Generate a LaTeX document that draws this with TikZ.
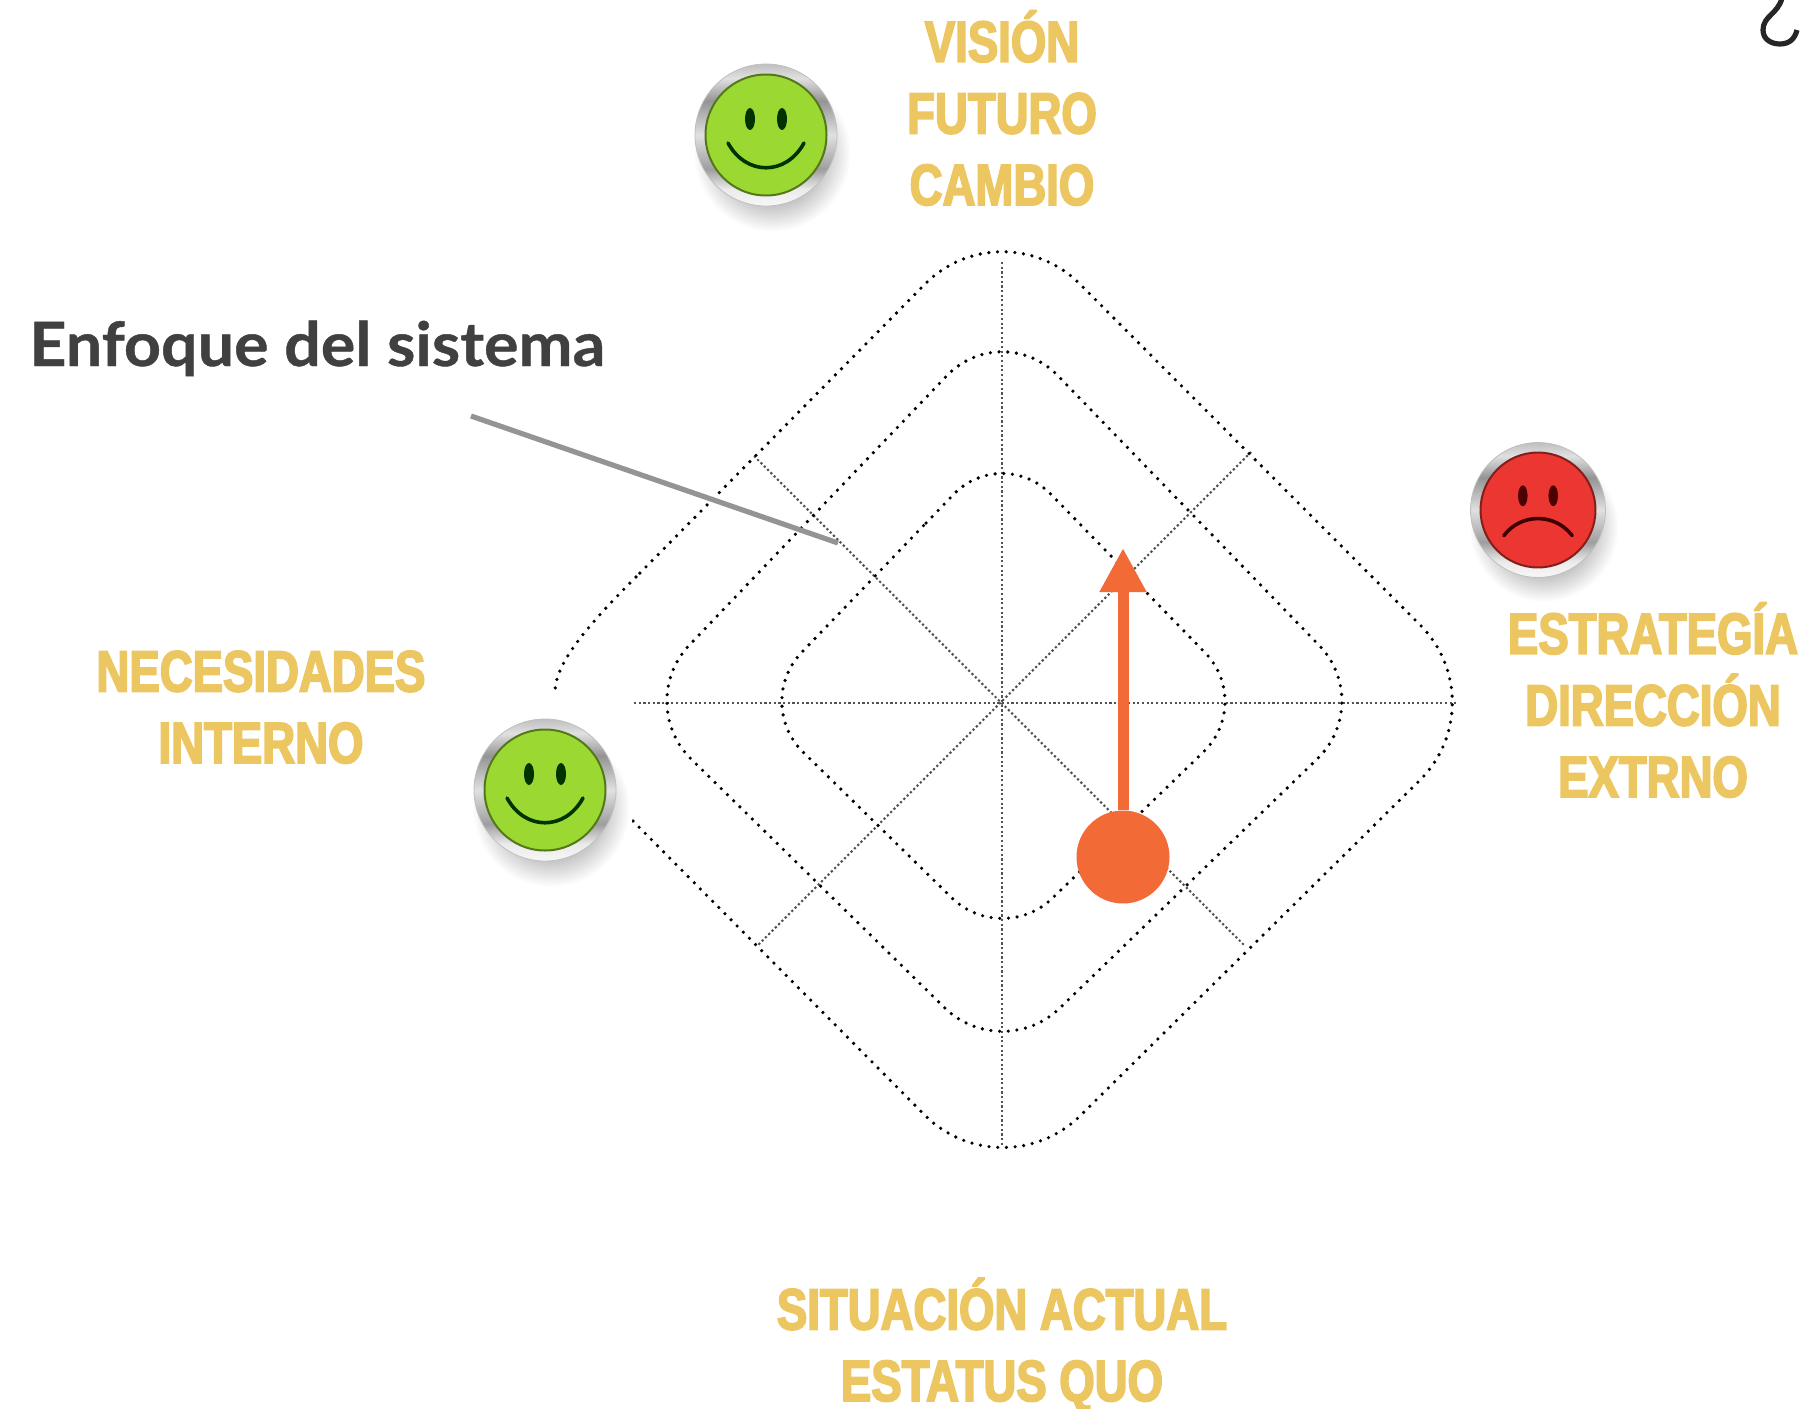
\documentclass[tikz,border=0pt]{standalone}
\usepackage{fontspec}
\usepackage{xcolor}
\usetikzlibrary{arrows.meta}
\newfontfamily\labelfont[FakeStretch=0.785,FakeBold=3]{Liberation Sans Bold}
\newfontfamily\titlefont[FakeStretch=1.058,FakeBold=0.7]{Lato Bold}
\definecolor{label-gold}{HTML}{ECC660}
\definecolor{marker-orange}{HTML}{F26A36}
\definecolor{face-green}{HTML}{9BD932}
\definecolor{face-red}{HTML}{EC3631}
\pgfdeclareradialshading{button-shadow}{\pgfpoint{0bp}{0bp}}{color(0bp)=(black!50); color(14bp)=(black!28); color(24bp)=(white); color(50bp)=(white)}
\pgfdeclareverticalshading{button-ring}{100bp}{color(0bp)=(black!3); color(25bp)=(black!3); color(31bp)=(black!8); color(38bp)=(black!38); color(50bp)=(black!12); color(62bp)=(black!42); color(70bp)=(black!12); color(75bp)=(black!25); color(100bp)=(black!25)}
\newcommand{\buttonbase}[1]{
    \shade[shading=button-shadow] (6,18) circle (82);
    \shadedraw[draw=black!25, line width=0.4pt, shading=button-ring] (0,0) circle (71);
    \fill[#1, draw=#1!55!black, line width=1pt] (0,0) circle (60.5);
}
\tikzset{
    x=0.5pt, y=-0.5pt,
    axis-line/.style = {draw=black!68, line width=1.05pt, dash pattern=on 1.1pt off 1.23pt},
    ring-line/.style = {draw=black, line width=1.8pt, line cap=round, dash pattern=on 0pt off 4.35pt},
    pointer-line/.style = {draw=black!42, line width=2.6pt},
    label-text/.style = {text=label-gold, font=\labelfont\fontsize{29}{35.8}\selectfont, align=center, anchor=base, inner sep=0pt},
    title-text/.style = {text=black!75, font=\titlefont\fontsize{30.5}{35}\selectfont, anchor=base west, inner sep=0pt},
    core-dot/.style = {circle, fill=marker-orange, inner sep=0pt, minimum size=46.5pt},
    trend-arrow/.style = {draw=marker-orange, line width=5.5pt, -{Triangle[length=22pt,width=22pt]}},
    happy-face/.pic = {
        \buttonbase{face-green}
        \fill[green!20!black] (-16,-16) ellipse (5 and 11) (16,-16) ellipse (5 and 11);
        \draw[green!20!black, line width=1.8pt, line cap=round] (-38,8) .. controls (-20,41) and (20,41) .. (38,8);
    },
    sad-face/.pic = {
        \buttonbase{face-red}
        \fill[red!30!black] (-16,-15) ellipse (5 and 11) (16,-15) ellipse (5 and 11);
        \draw[red!25!black, line width=1.8pt, line cap=round] (-36,27) .. controls (-18,3) and (18,3) .. (36,27);
    },
}

\begin{document}
\begin{tikzpicture}
\useasboundingbox (0,0) rectangle (1804,1408);
\coordinate (hub) at (1002,703);
% spokes
\coordinate (spoke-n) at (1002,262);
\coordinate (spoke-s) at (1002,1147);
\coordinate (spoke-w) at (634,703);
\coordinate (spoke-e) at (1457,703);
\coordinate (spoke-nw) at (754,456);
\coordinate (spoke-se) at (1245,946);
\coordinate (spoke-ne) at (1251,452);
\coordinate (spoke-sw) at (757,946);
\foreach \spokeA/\spokeB in {spoke-n/spoke-s, spoke-w/spoke-e, spoke-nw/spoke-se, spoke-ne/spoke-sw}
    \draw[axis-line] (\spokeA) -- (\spokeB);
% rings
\begin{scope}[shift={(hub)}]
\foreach \ringT/\ringR/\ringB/\ringL/\ringC in {259/252/244/249/35pt, 385/373/361/368/40pt}
    \draw[ring-line, rounded corners=\ringC] ({-\ringL/2},{-\ringT/2}) -- (0,-\ringT) -- (\ringR,0) -- (0,\ringB) -- (-\ringL,0) -- cycle;
\draw[ring-line, rounded corners=55pt] (-369,118) -- (0,490) -- (496,0) -- (0,-497) -- (-366,-126);
\draw[ring-line] (-366,-126) .. controls (-420,-72) and (-445,-40) .. (-447,-13);
\end{scope}
\node[core-dot] (core) at (1123,857) {};
\coordinate (trend-tip) at (1123,548);
\draw[trend-arrow] (core) -- (trend-tip);
\pic (face-vision) at (766,135) {happy-face};
\pic (face-need) at (545,790) {happy-face};
\pic[scale=0.95] (face-strategy) at (1538,510) {sad-face};
\node[label-text] (label-vision) at (1002,205) {VISIÓN\\FUTURO\\CAMBIO};
\node[label-text] (label-need) at (261,763) {NECESIDADES\\INTERNO};
\node[label-text] (label-strategy) at (1653,797) {ESTRATEGÍA\\DIRECCIÓN\\EXTRNO};
\node[label-text] (label-now) at (1002,1401) {SITUACIÓN ACTUAL\\ESTATUS QUO};
\node[title-text] (title-focus) at (29,366) {Enfoque del sistema};
\coordinate (pointer-start) at (471,416);
\coordinate (pointer-end) at (838,543);
\draw[pointer-line] (pointer-start) -- (pointer-end);
\draw[line width=2.6pt, black!85] (1782,-2) .. controls (1778,14) and (1763,16) .. (1763,30) .. controls (1763,40) and (1772,44) .. (1780,44) .. controls (1790,44) and (1795,38) .. (1797,30);
\end{tikzpicture}
\end{document}
